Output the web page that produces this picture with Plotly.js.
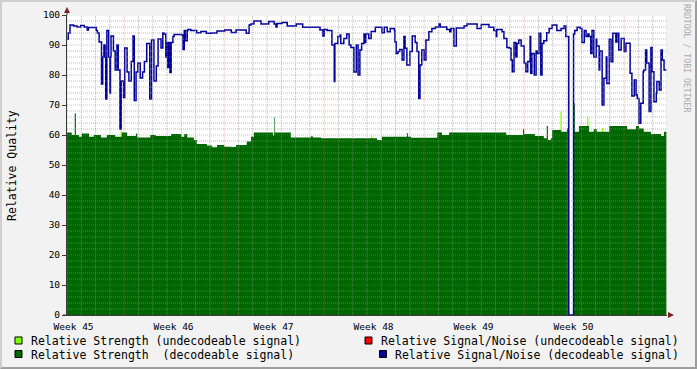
<!DOCTYPE html>
<html><head><meta charset="utf-8">
<script src="https://cdn.plot.ly/plotly-3.0.1.min.js"></script>
<style>
html,body{margin:0;padding:0;background:#f2f2f2;}
#wrap{position:relative;width:697px;height:369px;}
#chart{width:697px;height:369px;}
#frame{position:absolute;left:0;top:0;width:697px;height:369px;box-sizing:border-box;border-style:solid;border-width:2px;border-color:#cfcfcf #9e9e9e #9e9e9e #cfcfcf;pointer-events:none;}
</style>
</head><body>
<div id="wrap"><div id="chart"></div><div id="frame"></div></div>
<script>
// ---- data (time in hours from start of graph) ----
const weekLabels = ["Week 45","Week 46","Week 47","Week 48","Week 49","Week 50"];
const weekLabelHours = [11,179,347,515,683,851];

const undecStrengthHours  = [0,90,92,511,513,829,831,874,876,899,901,1007];
const undecStrengthValues = [0,61.5,0,59.8,0,67.8,0,66,0,62.3,0,0];

const strengthHours = [0,8,13,15,20,25,37,45,57,67,81,92,101,116,118,140,149,175,192,197,202,213,218,235,244,252,264,276,284,302,309,314,346,348,349,376,410,413,427,521,529,571,573,578,622,630,642,738,766,768,786,801,806,808,813,815,830,840,843,851,853,860,877,885,890,911,941,956,961,969,981,998,1003,1007];
const strengthValues = [60.8,60,67.2,60,59.4,60.5,59.4,60,59.2,60,59.4,60.8,59.7,60.5,59.2,60,59.7,60.3,59.4,60.3,59.2,58.3,57,56.5,55.9,56.7,56.1,56,56.7,57.8,59.4,60.8,59.8,65.9,60.8,59.2,59.6,59.2,58.9,58.3,59.4,60.6,59.4,59.1,60.8,60,60.8,60,61.9,60.3,59.7,58.9,63,58.3,58.9,61.7,61.1,62.2,0,70.6,61.1,63,61.1,61.9,61.1,63,61.9,63,62.2,61.1,60.3,59.7,61.1,61.1];

const snHours = [0,2,5,11,17,23,29,34,36,49,51,54,58,60,62,64,65,67,70,72,73,74,78,81,84,86,89,91,95,97,101,104,108,111,113,116,119,123,127,130,134,139,142,146,150,153,158,161,163,166,168,169,171,173,175,178,180,193,195,197,199,202,203,208,218,225,234,242,252,265,276,284,301,306,309,314,326,339,348,351,353,361,370,385,396,425,430,432,437,445,449,450,455,459,460,465,470,474,477,482,486,489,492,495,499,501,502,507,511,518,529,533,538,543,550,551,553,556,559,563,566,568,571,576,580,585,588,591,593,596,600,603,608,613,619,625,627,638,643,645,650,654,667,672,689,696,709,717,721,722,731,734,739,743,746,748,751,754,756,759,763,768,771,774,778,779,781,785,788,790,793,796,798,801,806,810,815,823,830,835,838,843,851,853,857,862,865,869,872,875,877,880,882,885,889,890,894,895,899,902,906,907,911,914,917,922,924,927,931,936,939,946,949,953,956,958,961,964,968,969,972,974,978,981,983,986,990,991,995,998,1000,1003,1007];
const snValues = [92,94,96.7,96.3,96,96.5,96,95,95.8,94.8,94,91,77,86,90,86,72,94.8,86,74,86,93,88,81.7,90,81.7,62,78,72.5,89,81,78,84.5,93,71.5,81,84,79,81,84.5,90.5,72,91.7,78,83,92,89,94,93.7,86,90.8,82.5,90.8,80.8,90.8,92.8,93.5,93.3,88.5,94.8,91.4,94.8,95.2,94.8,94.1,94.5,93.9,94,94.7,95,94.2,95,93.9,96.7,97,98,97,97.8,97,96,97.2,97.5,96.3,97,95.9,95,93,95.2,94.8,90,77.8,90.5,92.8,93.3,90.5,92.2,93.7,90,89.2,81,90,80,88.3,90.5,93.7,90.8,93.7,92.2,94.5,95.9,94.1,95.9,94.4,95.5,94.8,91,87.2,87.8,88.5,85,92.8,88.9,83.3,87.8,93,90.8,87.8,72.2,83.3,88.3,85,91.7,94.4,95.5,96,97,96,95.2,94.4,95.5,89.7,95.7,96.3,97,95.5,96.8,95.9,94.8,92.8,95.2,94.4,92.2,89.2,88.9,85,81.1,90.8,86,90.5,91.7,89.7,84,81.1,84.5,92.8,80.6,87.2,80,88,87.2,93.9,80,90.5,91.4,94.1,95.5,96.7,94.8,95.5,96.3,92.8,0,93.7,94.8,95.9,95.5,90.8,94.8,92.8,93.7,92.8,87.2,94.8,86,91.9,89.7,81.7,88,70,78.9,86,77.2,91.9,84.4,93.9,91,93.9,88.3,92.2,87.8,90.6,80.6,73,78.3,73.3,72.2,63.9,70.6,81.1,81.7,88.3,84,67.8,89.2,81.1,71.1,73.9,77.8,75,88.3,85,81.7,81.7];

const legendLabels = ["Relative Strength (undecodeable signal)",
                      "Relative Strength\u00a0 (decodeable signal)",
                      "Relative Signal/Noise (undecodeable signal)",
                      "Relative Signal/Noise (decodeable signal)"];
const legendColors = ["#80ff00","#006600","#ff0000","#000099"];

// ---- style ----
const FONT = "DejaVu Sans Mono";
const GRID = "rgba(143,143,143,0.6)";
const MGRID = "rgba(235,90,90,0.45)";
const ARROW = "#801f1f";
const AXIS = "#3a3a3a";
const XMAX = 1008;

const traces = [
  {x: undecStrengthHours, y: undecStrengthValues, type:"scatter", mode:"lines",
   line:{shape:"hv", width:0, color:legendColors[0]}, fill:"tozeroy", fillcolor:legendColors[0], hoverinfo:"skip"},
  {x: strengthHours, y: strengthValues, type:"scatter", mode:"lines",
   line:{shape:"hv", width:0, color:legendColors[1]}, fill:"tozeroy", fillcolor:legendColors[1], hoverinfo:"skip"},
  {x: snHours, y: snValues, type:"scatter", mode:"lines",
   line:{shape:"hv", width:1.5, color:legendColors[3]}, hoverinfo:"skip"}
];

// grid as path shapes drawn above the areas (like rrdtool)
function vpath(start, step, skipStep){
  let p = "";
  for (let h = start; h <= XMAX; h += step){
    if (skipStep && Math.abs(((h - 96) % skipStep)) < 1e-6) continue;
    p += "M" + h + ",0L" + h + ",100";
  }
  return p;
}
function hpath(step, skip){
  let p = "";
  for (let v = step; v <= 100; v += step){
    if (skip && v % skip === 0) continue;
    p += "M0," + v + "L" + XMAX + "," + v;
  }
  return p;
}
const shapes = [
  {type:"path", xref:"x", yref:"y", layer:"above", path: vpath(0, 24, 168), line:{color:GRID, width:1, dash:"1px,1px"}},
  {type:"path", xref:"x", yref:"y", layer:"above", path: hpath(2, 10), line:{color:GRID, width:1, dash:"1px,1px"}},
  {type:"path", xref:"x", yref:"y", layer:"above", path: vpath(96, 168, 0), line:{color:MGRID, width:1, dash:"1px,1px"}},
  {type:"path", xref:"x", yref:"y", layer:"above", path: hpath(10, 0), line:{color:MGRID, width:1, dash:"1px,1px"}},
  // axis arrows
  {type:"path", xref:"paper", yref:"paper", xsizemode:"pixel", ysizemode:"pixel", xanchor:0, yanchor:1,
   path:"M-3,2L3,2L0,8Z", fillcolor:ARROW, line:{width:0}, layer:"above"},
  {type:"line", xref:"paper", yref:"paper", xsizemode:"pixel", ysizemode:"pixel", xanchor:0, yanchor:1,
   x0:0, x1:0, y0:0, y1:3, line:{color:AXIS, width:1}, layer:"above"},
  {type:"path", xref:"paper", yref:"paper", xsizemode:"pixel", ysizemode:"pixel", xanchor:1, yanchor:0,
   path:"M1,-3L1,3L7,0Z", fillcolor:ARROW, line:{width:0}, layer:"above"},
  {type:"line", xref:"paper", yref:"paper", xsizemode:"pixel", ysizemode:"pixel", xanchor:0, yanchor:0,
   x0:-4, x1:0, y0:0, y1:0, line:{color:AXIS, width:1}, layer:"above"}
];

// legend swatches + texts
const swatch = [
  [-0.0867,-0.0750,-0.0967,-0.0733],
  [-0.0867,-0.0750,-0.1417,-0.1183],
  [0.4967,0.5083,-0.0967,-0.0733],
  [0.5208,0.5325,-0.1417,-0.1183]
];
const legPos = [[-0.0617,-0.0867],[-0.0617,-0.1333],[0.5217,-0.0867],[0.5450,-0.1333]];
const annotations = [];
for (let i = 0; i < 4; i++){
  shapes.push({type:"rect", xref:"paper", yref:"paper", x0:swatch[i][0], x1:swatch[i][1], y0:swatch[i][2], y1:swatch[i][3],
    fillcolor:legendColors[i], line:{color:"#000", width:1}});
  annotations.push({xref:"paper", yref:"paper", x:legPos[i][0], y:legPos[i][1], xanchor:"left", yanchor:"middle",
    text:legendLabels[i], showarrow:false, borderpad:0, font:{family:FONT, size:11.5, color:"#000"}});
}
annotations.push({xref:"paper", yref:"paper", x:-0.0917, y:0.5, textangle:-90, text:"Relative Quality",
  showarrow:false, xanchor:"center", yanchor:"middle", font:{family:FONT, size:11.5, color:"#000"}});
annotations.push({xref:"paper", yref:"paper", x:1.0333, y:0.8533, textangle:90, text:"RRDTOOL / TOBI OETIKER",
  showarrow:false, xanchor:"center", yanchor:"middle", font:{family:FONT, size:8.2, color:"#aaaaaa"}});

const layout = {
  width:697, height:369,
  margin:{l:67, r:30, t:15, b:54, pad:0},
  paper_bgcolor:"#f2f2f2", plot_bgcolor:"#ffffff",
  showlegend:false,
  font:{family:FONT, size:9.5, color:"#000"},
  xaxis:{range:[0, XMAX], tickmode:"array", tickvals:weekLabelHours, ticktext:weekLabels,
    ticks:"", ticklabelstandoff:3, showgrid:false, zeroline:false, showline:true, linecolor:AXIS, linewidth:1,
    tickfont:{family:FONT, size:9.5, color:"#000"}, fixedrange:true},
  yaxis:{range:[0,100], tickmode:"linear", tick0:0, dtick:10, ticks:"outside", ticklen:4, tickcolor:AXIS,
    showgrid:false, zeroline:false, showline:true, linecolor:AXIS, linewidth:1,
    tickfont:{family:FONT, size:9.5, color:"#000"}, fixedrange:true},
  shapes:shapes,
  annotations:annotations
};
Plotly.newPlot("chart", traces, layout, {displayModeBar:false, staticPlot:true});
</script>
</body></html>
